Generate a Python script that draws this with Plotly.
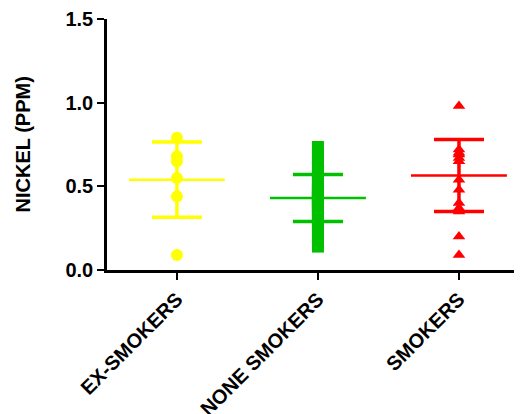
import plotly.graph_objects as go

categories = ["EX-SMOKERS", "NONE SMOKERS", "SMOKERS"]
colors = ["#FFFF00", "#00C000", "#FF0000"]
symbols = ["circle", "square", "triangle-up"]

ex_smokers = [0.79, 0.68, 0.65, 0.55, 0.44, 0.09]
none_smokers = [0.14, 0.17, 0.20, 0.23, 0.26, 0.28, 0.30, 0.32, 0.33, 0.35,
                0.36, 0.37, 0.38, 0.39, 0.40, 0.41, 0.42, 0.43, 0.43, 0.44,
                0.45, 0.46, 0.47, 0.48, 0.49, 0.50, 0.52, 0.54, 0.56, 0.58,
                0.61, 0.64, 0.67, 0.70, 0.735]
smokers = [0.98, 0.72, 0.70, 0.69, 0.67, 0.65, 0.54, 0.48, 0.40, 0.37, 0.35, 0.20, 0.09]

means = [0.54, 0.43, 0.565]
sds = [0.225, 0.14, 0.215]

y_ticks = [0.0, 0.5, 1.0, 1.5]

groups = [ex_smokers, none_smokers, smokers]
marker_sizes = [12, 12, 11]

fig = go.Figure()
half = 0.34
for i, vals in enumerate(groups):
    fig.add_trace(go.Scatter(
        x=[i] * len(vals), y=vals, mode="markers",
        marker=dict(symbol=symbols[i], size=marker_sizes[i], color=colors[i], line=dict(width=0)),
        showlegend=False, hoverinfo="y"))
    fig.add_trace(go.Scatter(
        x=[i], y=[means[i]], mode="markers",
        marker=dict(size=1, color=colors[i], opacity=0),
        error_y=dict(type="data", array=[sds[i]], visible=True,
                     color=colors[i], thickness=3.5, width=25),
        showlegend=False, hoverinfo="skip"))
    fig.add_trace(go.Scatter(
        x=[i - half, i + half], y=[means[i], means[i]], mode="lines",
        line=dict(color=colors[i], width=2.5),
        showlegend=False, hoverinfo="skip"))

font_family = "Liberation Sans, Arial, sans-serif"

# page body has an 8px default margin; compensate
fig.update_layout(
    width=514, height=406,
    margin=dict(l=99, r=0, t=11, b=144, pad=0),
    plot_bgcolor="white", paper_bgcolor="white",
    font=dict(family=font_family, color="black"),
    xaxis=dict(
        range=[-0.496, 2.447], automargin=False,
        tickmode="array", tickvals=[0, 1, 2],
        ticktext=[f"<b>{c}</b>" for c in categories],
        tickangle=-45,
        tickfont=dict(size=20, family=font_family),
        showline=True, linecolor="black", linewidth=2.5,
        ticks="outside", ticklen=7, tickwidth=2, tickcolor="black",
        showgrid=False, zeroline=False),
    yaxis=dict(
        range=[0, 1.5], automargin=False,
        tickmode="array", tickvals=y_ticks,
        ticktext=[f"<b>{v:.1f}</b>" for v in y_ticks],
        tickfont=dict(size=20, family=font_family),
        showline=True, linecolor="black", linewidth=2.5,
        ticks="outside", ticklen=7, tickwidth=2, tickcolor="black",
        showgrid=False, zeroline=False),
    annotations=[dict(
        text="<b>NICKEL (PPM)</b>", xref="paper", yref="paper",
        x=(22 - 107) / 415, y=0.5, textangle=-90, showarrow=False,
        xanchor="center", yanchor="middle",
        font=dict(size=20, family=font_family))],
)

fig.write_html("out.html")
